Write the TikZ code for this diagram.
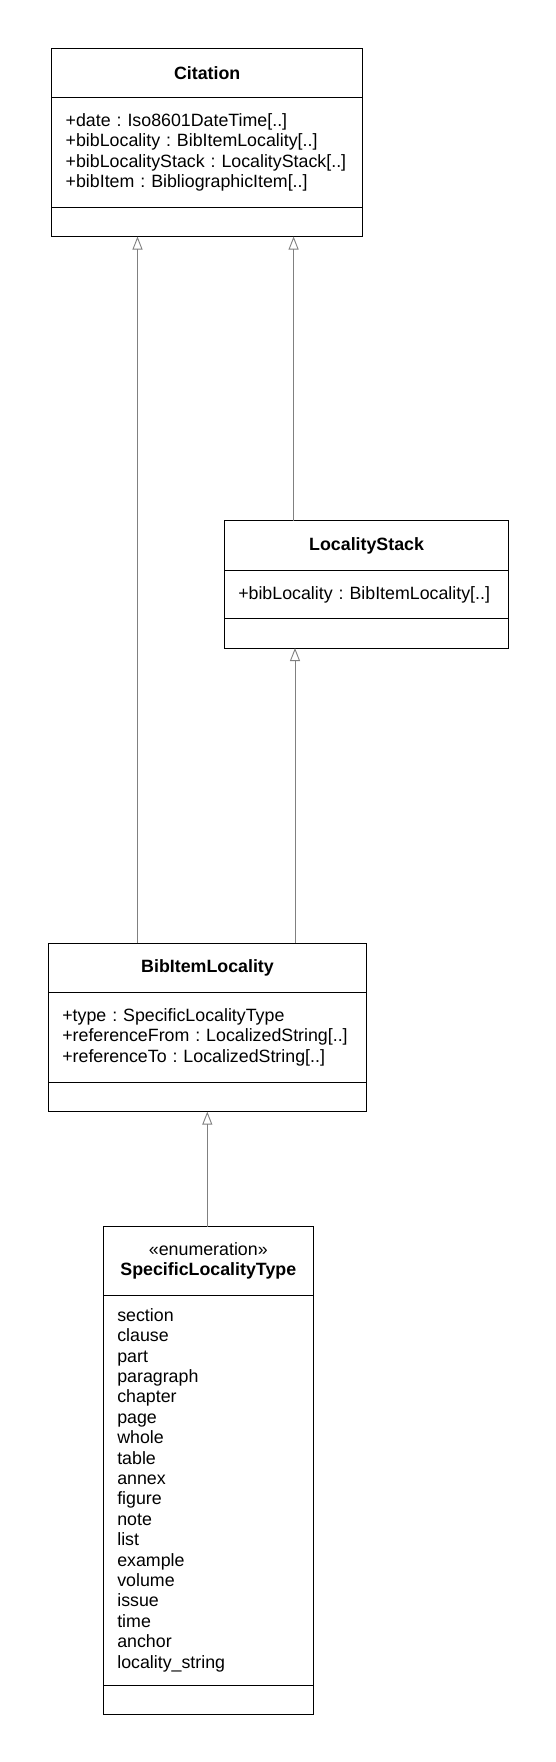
\documentclass[tikz,border=0pt]{standalone}
\usepackage{fontspec}
\setmainfont{Liberation Sans}
\usetikzlibrary{positioning, arrows.meta}
\newcommand{\umlfont}{\fontsize{17.8}{20.4}\selectfont\frenchspacing\hyphenpenalty=10000}
\tikzstyle{head} = [draw, line width=1pt, inner sep=0pt, outer sep=0pt, align=center, font=\umlfont\bfseries]
\tikzstyle{attrs} = [draw, line width=1pt, inner xsep=14pt, inner ysep=0pt, outer sep=0pt, align=left, font=\umlfont]
\tikzstyle{ops} = [draw, line width=1pt, inner sep=0pt, outer sep=0pt, minimum height=29.3pt]
\tikzstyle{gen} = [draw=black!50, line width=0.9pt, -{Triangle[open, length=13pt, width=10pt]}]

\begin{document}
\begin{tikzpicture}[x=1pt, y=-1pt]
    %\draw[help lines] (0, 0) grid (556, 1762);
    \useasboundingbox (0, 0) rectangle (556, 1762);

    \node[head, minimum width=311pt, minimum height=49.5pt, anchor=north] (citehead) at (207.2, 48.3) {Citation};
    \node[attrs, text width=283pt, minimum height=109.4pt, below=0pt of citehead] (citeattr) {+date : Iso8601DateTime[..]\\+bibLocality : BibItemLocality[..]\\+bibLocalityStack : LocalityStack[..]\\+bibItem : BibliographicItem[..]};
    \node[ops, minimum width=311pt, below=0pt of citeattr] (citeops) {};

    \node[head, minimum width=284.7pt, minimum height=50pt, anchor=north] (stackhead) at (366.6, 520.7) {LocalityStack};
    \node[attrs, text width=256.7pt, minimum height=48pt, below=0pt of stackhead] (stackattr) {+bibLocality : BibItemLocality[..]};
    \node[ops, minimum width=284.7pt, below=0pt of stackattr] (stackops) {};

    \node[head, minimum width=318.4pt, minimum height=49pt, anchor=north] (bibhead) at (207.5, 943.3) {BibItemLocality};
    \node[attrs, text width=290.4pt, minimum height=90pt, below=0pt of bibhead] (bibattr) {+type : SpecificLocalityType\\+referenceFrom : LocalizedString[..]\\+referenceTo : LocalizedString[..]};
    \node[ops, minimum width=318.4pt, below=0pt of bibattr] (bibops) {};

    \node[head, minimum width=210pt, minimum height=68.3pt, anchor=north] (slthead) at (208.3, 1226.7) {{\mdseries «enumeration»}\\SpecificLocalityType};
    \node[attrs, text width=182pt, minimum height=390pt, below=0pt of slthead] (sltattr) {section\\clause\\part\\paragraph\\chapter\\page\\whole\\table\\annex\\figure\\note\\list\\example\\volume\\issue\\time\\anchor\\locality\_string};
    \node[ops, minimum width=210pt, below=0pt of sltattr] (sltops) {};

    \draw[gen] ([xshift=-70pt]bibhead.north) coordinate (b1) -- (b1 |- citeops.south);
    \draw[gen] ([xshift=-73pt]stackhead.north) coordinate (s1) -- (s1 |- citeops.south);
    \draw[gen] ([xshift=87.5pt]bibhead.north) coordinate (b2) -- (b2 |- stackops.south);
    \draw[gen] ([xshift=-1pt]slthead.north) coordinate (e1) -- (e1 |- bibops.south);
\end{tikzpicture}
\end{document}
